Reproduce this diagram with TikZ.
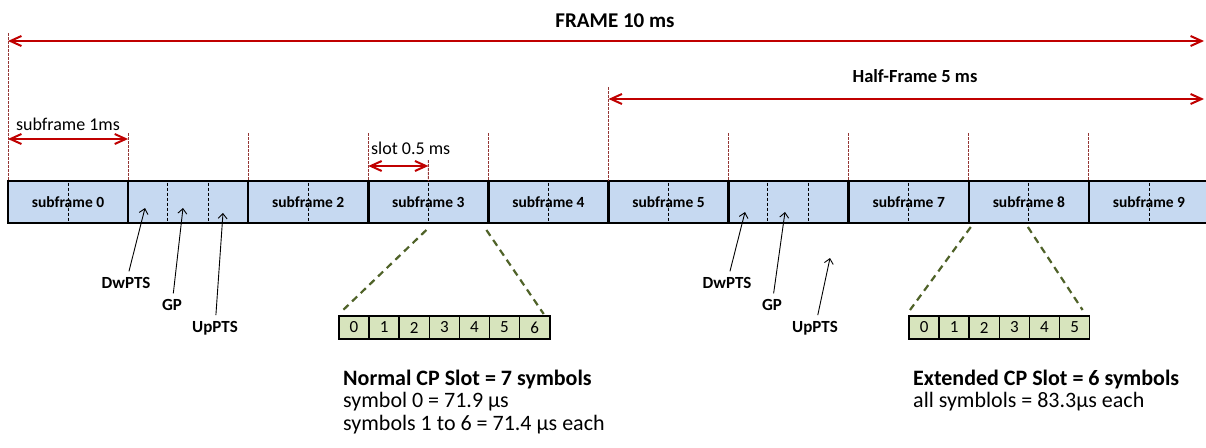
\documentclass[tikz,border=0pt]{standalone}
\usepackage{fontspec}
\setmainfont{Carlito}
\usetikzlibrary{arrows.meta,calc}
\definecolor{sfblue}{HTML}{C6D9F1}
\definecolor{symgreen}{HTML}{D7E4BD}
\definecolor{arrred}{HTML}{C00000}
\definecolor{guidered}{HTML}{953735}
\definecolor{olivegreen}{HTML}{4F6228}
\tikzset{
  sub/.style={draw=black, line width=2.5pt, fill=sfblue, minimum width=120.1pt, minimum height=42pt,
    inner sep=0pt, outer sep=0pt, anchor=north west, font=\fontsize{15.5}{17}\selectfont\bfseries},
  innerdash/.style={draw=black, line width=0.8pt, dash pattern=on 3pt off 2pt},
  guide/.style={draw=guidered, line width=1pt, dash pattern=on 3pt off 1pt},
  dim/.style={draw=arrred, line width=2pt, {Straight Barb[length=11pt,width=10pt,line width=2pt]}-{Straight Barb[length=11pt,width=10pt,line width=2pt]}},
  ptr/.style={draw=black, line width=0.9pt, -{Straight Barb[length=5pt,width=9pt,line width=0.9pt]}},
  zoomline/.style={draw=olivegreen, line width=2.2pt, dash pattern=on 7pt off 5pt},
  sym/.style={draw=black, line width=1.6pt, fill=symgreen, minimum width=30.1pt, minimum height=23pt,
    inner sep=0pt, outer sep=0pt, anchor=north west, font=\fontsize{17}{19}\selectfont},
  lbl/.style={font=\fontsize{18}{20}\selectfont, inner sep=1pt},
  desc/.style={font=\fontsize{22}{24}\selectfont, inner sep=0pt, anchor=base west},
  ptslbl/.style={font=\fontsize{17}{19}\selectfont\bfseries, inner sep=1pt, outer sep=5pt},
}
\begin{document}
\begin{tikzpicture}[x=1pt,y=-1pt]
\useasboundingbox (0,0) rectangle (1206,447);
% subframe bar
\node[sub] (s0) at (8,181) {subframe 0};
\node[sub] (s1) at (128.1,181) {};
\node[sub] (s2) at (248.2,181) {subframe 2};
\node[sub] (s3) at (368.3,181) {subframe 3};
\node[sub] (s4) at (488.4,181) {subframe 4};
\node[sub] (s5) at (608.5,181) {subframe 5};
\node[sub] (s6) at (728.6,181) {};
\node[sub] (s7) at (848.7,181) {subframe 7};
\node[sub] (s8) at (968.8,181) {subframe 8};
\node[sub] (s9) at (1088.9,181) {subframe 9};
% slot separators
\foreach \s in {s0,s2,s3,s4,s5,s7,s8,s9}{
  \draw[innerdash] ([yshift=-1.5pt]\s.north) -- ([yshift=1.5pt]\s.south);
}
\foreach \s in {s1,s6}{
  \draw[innerdash] ([xshift=39pt,yshift=-1.5pt]\s.north west) -- ([xshift=39pt,yshift=1.5pt]\s.south west);
  \draw[innerdash] ([xshift=80pt,yshift=-1.5pt]\s.north west) -- ([xshift=80pt,yshift=1.5pt]\s.south west);
}
% guide lines
\coordinate (g0) at (8,33);
\coordinate (g5) at (608.5,87);
\coordinate (gslot) at (428.4,160);
\draw[guide] (g0) -- (s0.north west);
\draw[guide] (g5) -- (s5.north west);
\foreach \s in {s1,s2,s3,s4,s6,s7,s8,s9}{
  \draw[guide] ([yshift=48pt]\s.north west) -- (\s.north west);
}
\draw[guide] (gslot) -- (s3.north);
% dimension arrows
\coordinate (fr) at (1204,41);
\coordinate (hr) at (1204,99);
\draw[dim] ($(g0)+(0,8)$) -- (fr);
\draw[dim] ($(g5)+(0,12)$) -- (hr);
\draw[dim] ([yshift=42pt]s0.north west) -- ([yshift=42pt]s1.north west);
\draw[dim] ([yshift=15pt]s3.north west) -- ([yshift=15pt]s3.north);
\node[font=\fontsize{21}{23}\selectfont\bfseries, inner sep=1pt] (tframe) at (615,21) {FRAME 10 ms};
\node[font=\fontsize{18.5}{21}\selectfont\bfseries, inner sep=1pt] (thalf) at (915,76) {Half-Frame 5 ms};
\node[lbl] (tsub) at (68,124) {subframe 1ms};
\node[lbl, anchor=west] (tslot) at (370,148) {slot 0.5 ms};
% special subframe pointers
\node[ptslbl] (dw1) at (126,283) {DwPTS};
\node[ptslbl] (gp1) at (172,305) {GP};
\node[ptslbl] (up1) at (215,328) {UpPTS};
\coordinate (dw1t) at (145,208);
\coordinate (gp1t) at (183,208);
\coordinate (up1t) at (223,213);
\draw[ptr] (dw1) -- (dw1t);
\draw[ptr] (gp1) -- (gp1t);
\draw[ptr] (up1) -- (up1t);
\node[ptslbl] (dw6) at (727,283) {DwPTS};
\node[ptslbl] (gp6) at (772,305) {GP};
\node[ptslbl] (up6) at (815,328) {UpPTS};
\coordinate (dw6t) at (745,212);
\coordinate (gp6t) at (785,212);
\coordinate (up6t) at (830,258);
\draw[ptr] (dw6) -- (dw6t);
\draw[ptr] (gp6) -- (gp6t);
\draw[ptr] (up6) -- (up6t);
% normal CP symbols
\node[sym] (n0) at (339,316) {0};
\foreach \i [remember=\i as \j (initially 0)] in {1,...,6}{
  \node[sym] (n\i) at (n\j.north east) {\i};
}
% extended CP symbols
\node[sym] (e0) at (909,316) {0};
\foreach \i [remember=\i as \j (initially 0)] in {1,...,5}{
  \node[sym] (e\i) at (e\j.north east) {\i};
}
% zoom lines
\draw[zoomline] ([yshift=-7pt,xshift=-2pt]s3.south) -- ([xshift=1pt,yshift=3pt]n0.north west);
\draw[zoomline] ([yshift=-7pt,xshift=-2pt]s3.south east) -- ([xshift=-6pt,yshift=2pt]n6.north east);
\draw[zoomline] ([yshift=-4pt,xshift=2pt]s8.south west) -- ([xshift=1pt,yshift=6pt]e0.north west);
\draw[zoomline] ([yshift=-4pt,xshift=-1pt]s8.south) -- ([xshift=-7pt,yshift=6pt]e5.north east);
% descriptions
\node[desc] (tnorm1) at (343,385) {\textbf{Normal CP Slot = 7 symbols}};
\node[desc] (tnorm2) at (343,407.5) {symbol 0 = 71.9 μs};
\node[desc] (tnorm3) at (343,430) {symbols 1 to 6 = 71.4 μs each};
\node[desc] (text1) at (913,385) {\textbf{Extended CP Slot = 6 symbols}};
\node[desc] (text2) at (913,407.5) {all symblols = 83.3μs each};
\end{tikzpicture}
\end{document}
